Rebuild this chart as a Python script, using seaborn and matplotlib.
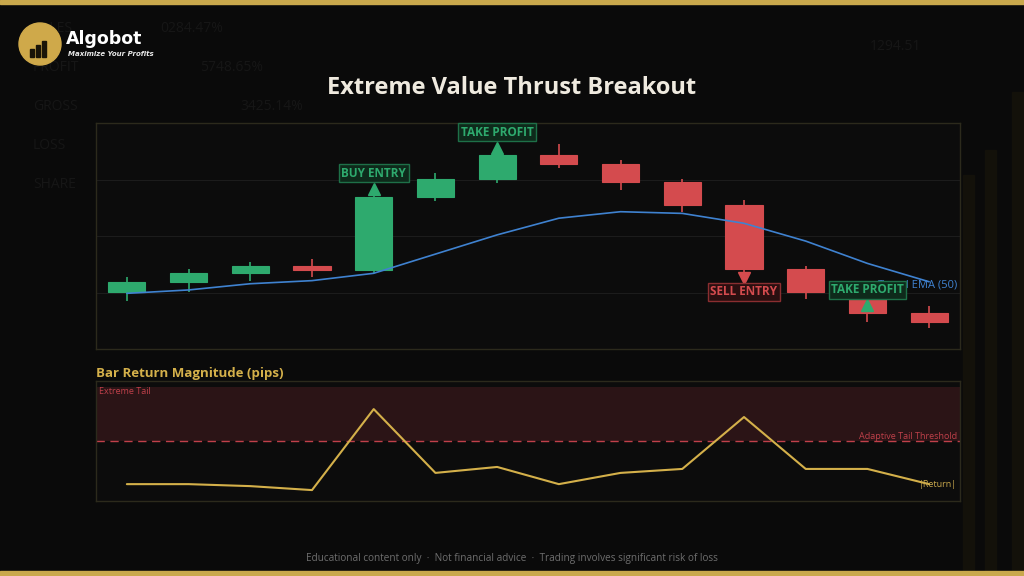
import numpy as np
import pandas as pd
import matplotlib
matplotlib.use('Agg')
import matplotlib.pyplot as plt
from matplotlib.patches import Rectangle, Ellipse
import seaborn as sns

# candle data (price)
bars = list(range(14))
opens = [1.08203, 1.08236, 1.08269, 1.08294, 1.08281, 1.08539, 1.08603,
         1.08686, 1.08654, 1.08590, 1.08511, 1.08282, 1.08188, 1.08127]
closes = [1.08236, 1.08269, 1.08294, 1.08281, 1.08539, 1.08603, 1.08686,
          1.08654, 1.08590, 1.08511, 1.08282, 1.08203, 1.08127, 1.08095]
highs = [1.08256, 1.08282, 1.08308, 1.08320, 1.08556, 1.08622, 1.08704,
         1.08725, 1.08668, 1.08603, 1.08526, 1.08295, 1.08205, 1.08153]
lows = [1.08171, 1.08203, 1.08242, 1.08256, 1.08270, 1.08525, 1.08589,
        1.08640, 1.08563, 1.08485, 1.08266, 1.08177, 1.08095, 1.08075]
ema = [1.08197, 1.08209, 1.08231, 1.08242, 1.08268, 1.08336, 1.08404,
       1.08463, 1.08486, 1.08480, 1.08445, 1.08382, 1.08303, 1.08238]

# return magnitude in pips
ret_pips = [3.1, 3.1, 2.5, 1.3, 25.8, 6.5, 8.3, 3.1, 6.5, 7.7, 23.4, 7.7, 7.7, 3.1]
tail_threshold = 16.2
tail_top = 32.6

# signals: (bar, label, marker y, label y, kind)
signals = [
    (4, 'BUY ENTRY', 1.08566, 1.08622, 'buy'),
    (6, 'TAKE PROFIT', 1.08713, 1.08768, 'buy'),
    (10, 'SELL ENTRY', 1.08253, 1.08202, 'sell'),
    (12, 'TAKE PROFIT', 1.08154, 1.08209, 'buy'),
]

bg_stats = [('SALES', '0284.47%'), ('PROFIT', '5748.65%'), ('GROSS', '3425.14%'),
            ('LOSS', ''), ('SHARE', '')]

BG = '#0a0a0a'
PANEL = '#0c0c0c'
GOLD = '#c9a84c'
GREEN = '#2eaa6e'
RED = '#d44b4e'
BLUE = '#3f82d0'
EDGE = '#2c2a1c'

sns.set_theme(style='dark')
plt.rcParams['font.family'] = ['Open Sans', 'DejaVu Sans']

fig = plt.figure(figsize=(10.24, 5.76), dpi=100, facecolor=BG)

# faint background decoration
for i, (name, val) in enumerate(bg_stats):
    yy = 1 - (29 + i * 38.8) / 576
    fig.text(33 / 1024, yy, name, color='#161616', fontsize=10, va='center', zorder=1)
    if val:
        fig.text((160 + i * 40) / 1024, yy, val, color='#161616', fontsize=10, va='center',
                 zorder=1)
fig.text(870 / 1024, 1 - 47 / 576, '1294.51', color='#161616', fontsize=10, va='center')
for xb, top in [(963, 175), (985, 150), (1012, 92)]:
    fig.patches.append(Rectangle((xb / 1024, 0), 11 / 1024, 1 - top / 576,
                                 transform=fig.transFigure, color='#13110a', zorder=0))

# gold frame bars
fig.patches.append(Rectangle((0, 1 - 4 / 576), 1, 4 / 576, transform=fig.transFigure,
                             color=GOLD, zorder=5))
fig.patches.append(Rectangle((0, 0), 1, 5 / 576, transform=fig.transFigure,
                             color=GOLD, zorder=5))

# logo
fig.patches.append(Ellipse((40 / 1024, 1 - 44 / 576), 42 / 1024, 42 / 576,
                           transform=fig.transFigure, color='#cfa94a', zorder=3))
for k, hh in enumerate([8, 12, 16]):
    fig.patches.append(Rectangle(((30 + k * 6) / 1024, 1 - 57 / 576), 4 / 1024, hh / 576,
                                 transform=fig.transFigure, color='#1a1408', zorder=4))
fig.text(66 / 1024, 1 - 39 / 576, 'Algobot', color='white', fontsize=12.5,
         fontweight='bold', va='center', ha='left', family=['DejaVu Sans'], zorder=4)
fig.text(68 / 1024, 1 - 53.5 / 576, 'Maximize Your Profits', color='#e8e8e8', fontsize=5,
         fontstyle='italic', fontweight='bold', va='center', ha='left', family=['DejaVu Sans'],
         zorder=4)

# title
fig.text(0.5, 1 - 88 / 576, 'Extreme Value Thrust Breakout', color='#efeadf',
         fontsize=17, fontweight='bold', ha='center', va='center')

# main price panel
ax = fig.add_axes([96 / 1024, 1 - 349 / 576, 864 / 1024, 226 / 576])
ax.set_facecolor(PANEL)
df = pd.DataFrame({'bar': bars, 'open': opens, 'close': closes,
                   'high': highs, 'low': lows, 'ema': ema})
df['color'] = np.where(df['close'] >= df['open'], GREEN, RED)
ax.vlines(df['bar'], df['low'], df['high'], colors=df['color'], linewidth=1.2, zorder=2)
ax.bar(df['bar'], (df['close'] - df['open']).abs(), bottom=df[['open', 'close']].min(axis=1),
       width=0.6, color=df['color'], edgecolor=df['color'], linewidth=0.8, zorder=3)
sns.lineplot(data=df, x='bar', y='ema', ax=ax, color=BLUE, linewidth=1.2, zorder=4)
ax.text(13.45, 1.08227, 'Trend EMA (50)', color=BLUE, fontsize=8, ha='right', va='center',
        zorder=4)

for b, lab, my, ly, kind in signals:
    col = GREEN if kind == 'buy' else RED
    face = '#0e2a1b' if kind == 'buy' else '#2a0f10'
    ecol = '#1e7048' if kind == 'buy' else '#8a2e30'
    ax.plot(b, my, marker='^' if kind == 'buy' else 'v', color=col, markersize=9,
            linestyle='none', zorder=6)
    ax.text(b, ly, lab, color=col, fontsize=8.5, fontweight='bold', ha='center', va='center',
            zorder=7, bbox=dict(boxstyle='square,pad=0.2', facecolor=face, edgecolor=ecol,
                                linewidth=1))

ax.set_xlim(-0.5, 13.5)
ax.set_ylim(1.0800, 1.0880)
ax.set_yticks([1.0820, 1.0840, 1.0860])
ax.set_xticks([])
ax.tick_params(left=False, labelleft=False)
ax.grid(True, axis='y', color='#1c1c1c', linewidth=0.8)
ax.grid(False, axis='x')
ax.set_xlabel('')
ax.set_ylabel('')
for s in ax.spines.values():
    s.set_color(EDGE)
    s.set_linewidth(1)

# lower return-magnitude panel
ax2 = fig.add_axes([96 / 1024, 1 - 501 / 576, 864 / 1024, 120 / 576])
ax2.set_facecolor(PANEL)
rdf = pd.DataFrame({'bar': bars, 'ret': ret_pips})
ax2.axhspan(tail_threshold, tail_top, color='#2b1416', zorder=1, linewidth=0)
ax2.axhline(tail_threshold, color='#c0404a', linestyle=(0, (6, 4)), linewidth=1, zorder=2)
sns.lineplot(data=rdf, x='bar', y='ret', ax=ax2, color='#d4b04a', linewidth=1.5, zorder=3)
ax2.text(-0.45, 31.0, 'Extreme Tail', color='#c0404a', fontsize=6.5, ha='left', va='center')
ax2.text(13.45, 17.4, 'Adaptive Tail Threshold', color='#c0404a', fontsize=6.5,
         ha='right', va='center')
ax2.text(13.45, 3.1, '|Return|', color='#c9a84c', fontsize=6.5, ha='right', va='center')
ax2.set_xlim(-0.5, 13.5)
ax2.set_ylim(-2, 34.3)
ax2.set_xticks([])
ax2.set_yticks([])
ax2.grid(False)
ax2.set_xlabel('')
ax2.set_ylabel('')
for s in ax2.spines.values():
    s.set_color(EDGE)
    s.set_linewidth(1)

fig.text(96 / 1024, 1 - 374 / 576, 'Bar Return Magnitude (pips)', color='#d4b04a',
         fontsize=9.5, fontweight='bold', ha='left', va='center')

fig.text(0.5, 1 - 559 / 576,
         'Educational content only  \u00b7  Not financial advice  \u00b7  Trading involves significant risk of loss',
         color='#6e6e6e', fontsize=7.2, ha='center', va='center')

fig.savefig('out.png', dpi=100, facecolor=BG)
